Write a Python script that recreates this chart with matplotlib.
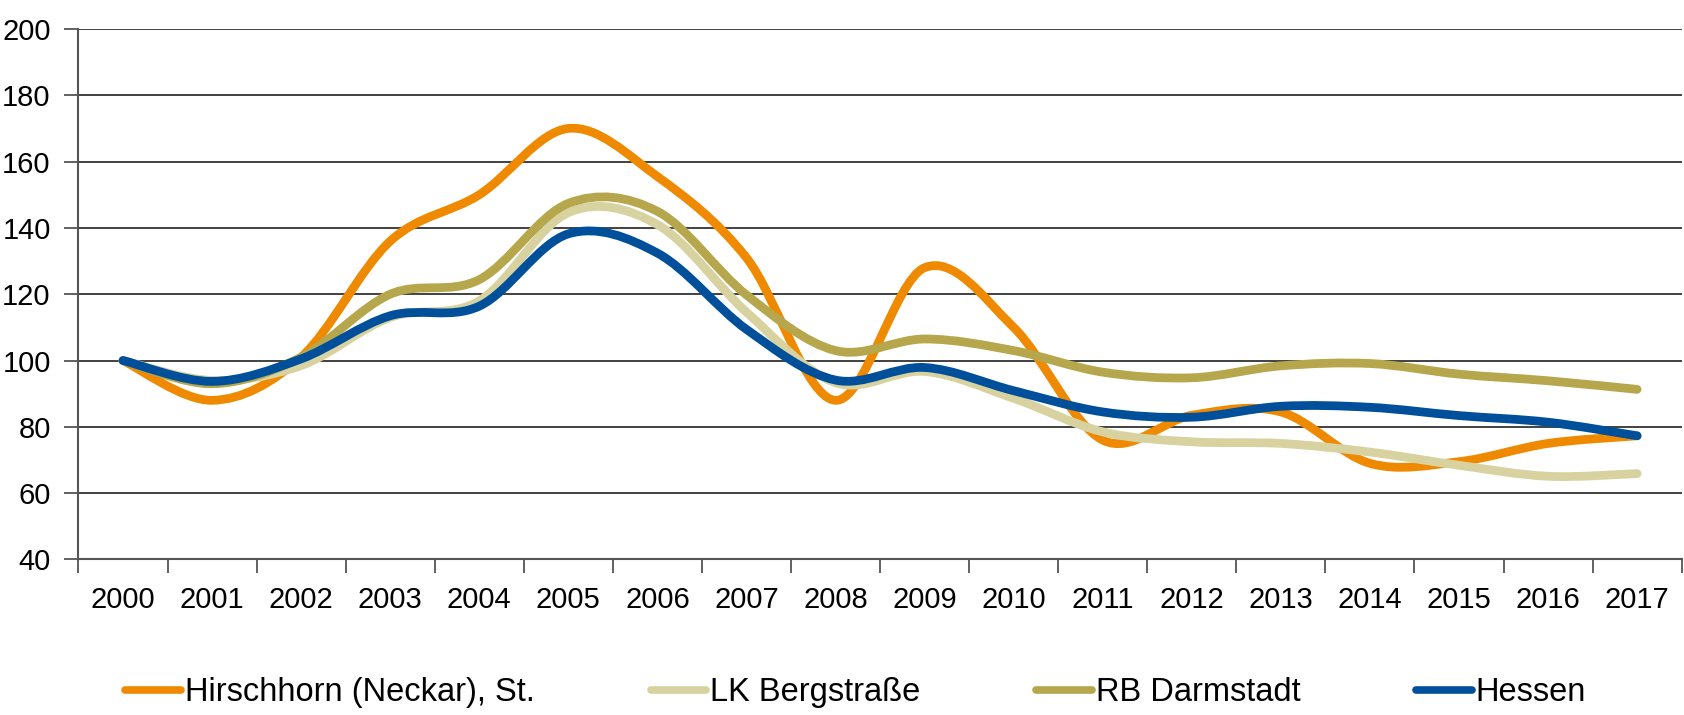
import matplotlib
matplotlib.use("Agg")
import matplotlib.pyplot as plt
from matplotlib.path import Path
from matplotlib.patches import PathPatch
from matplotlib.lines import Line2D
import numpy as np

plt.rcParams['font.family'] = ['Liberation Sans', 'DejaVu Sans']

years = [str(y) for y in range(2000, 2018)]
hirschhorn = [100, 88, 101, 136, 150, 170, 155.5, 131, 88, 128, 110, 76, 83.5, 84.5, 69, 69.5, 75, 77.3]
bergstrasse = [100, 94, 98.5, 113, 118, 144.6, 141, 114.6, 93.3, 96.7, 88.6, 78.5, 75.5, 75, 72.4, 68.4, 65.1, 65.9]
darmstadt = [100, 93, 101, 120, 124.4, 147.4, 145, 119.8, 103, 106.5, 103, 96.5, 94.8, 98.4, 99.1, 95.9, 93.9, 91.3]
hessen = [100, 93.7, 100.5, 113.5, 116.4, 138.2, 132.4, 109.4, 94.1, 97.9, 90.9, 84.5, 82.9, 86.2, 85.9, 83.4, 81.4, 77.3]

labels = ['Hirschhorn (Neckar), St.', 'LK Bergstraße', 'RB Darmstadt', 'Hessen']
colors = ['#EF8A00', '#D8D2A0', '#B6A64C', '#004F9A']
series = [hirschhorn, bergstrasse, darmstadt, hessen]


def smooth_path(xs, ys):
    # excel style smoothed line: cubic bezier, control points from neighbours
    pts = np.column_stack([xs, ys]).astype(float)
    n = len(pts)
    verts = [pts[0]]
    codes = [Path.MOVETO]
    for i in range(n - 1):
        p_prev = pts[i - 1] if i > 0 else pts[i]
        p_next2 = pts[i + 2] if i + 2 < n else pts[i + 1]
        c1 = pts[i] + (pts[i + 1] - p_prev) / 6
        c2 = pts[i + 1] - (p_next2 - pts[i]) / 6
        verts += [c1, c2, pts[i + 1]]
        codes += [Path.CURVE4] * 3
    return Path(verts, codes)


fig = plt.figure(figsize=(16.84, 7.15), dpi=100)
ax = fig.add_axes([0.0466, 0.2175, 0.952, 0.742])

x = np.arange(len(years))
for vals, col in zip(series, colors):
    patch = PathPatch(smooth_path(x, vals), facecolor='none', edgecolor=col,
                      lw=6.3, capstyle='round', joinstyle='round', zorder=3)
    ax.add_patch(patch)

ax.set_xlim(-0.5, len(years) - 0.5)
ax.set_ylim(40, 200)
ax.set_yticks(range(40, 201, 20))
ax.grid(axis='y', color='#333333', lw=1.3, zorder=1)
ax.set_axisbelow(True)

ax.set_xticks(x)
ax.set_xticklabels(years)
ax.set_xticks(np.arange(-0.5, len(years) - 0.4, 1), minor=True)
ax.tick_params(axis='x', which='major', length=0, pad=19, labelsize=21)
ax.tick_params(axis='x', which='minor', length=10, width=1.3, color='#555555')
ax.tick_params(axis='y', length=10, width=1.3, color='#555555', pad=10, labelsize=21)

for s in ['top', 'right']:
    ax.spines[s].set_visible(False)
for s in ['left', 'bottom']:
    ax.spines[s].set_color('#555555')
    ax.spines[s].set_linewidth(1.5)

handles = [Line2D([], [], color=c, lw=5.5, solid_capstyle='round') for c in colors]
fig.legend(handles, labels, loc='center left', bbox_to_anchor=(0.0745, 0.031), ncol=4,
           frameon=False, fontsize=23.5, handlelength=1.7, handletextpad=0.12,
           columnspacing=3.55, borderaxespad=0, borderpad=0)

fig.savefig('out.png', dpi=100)
